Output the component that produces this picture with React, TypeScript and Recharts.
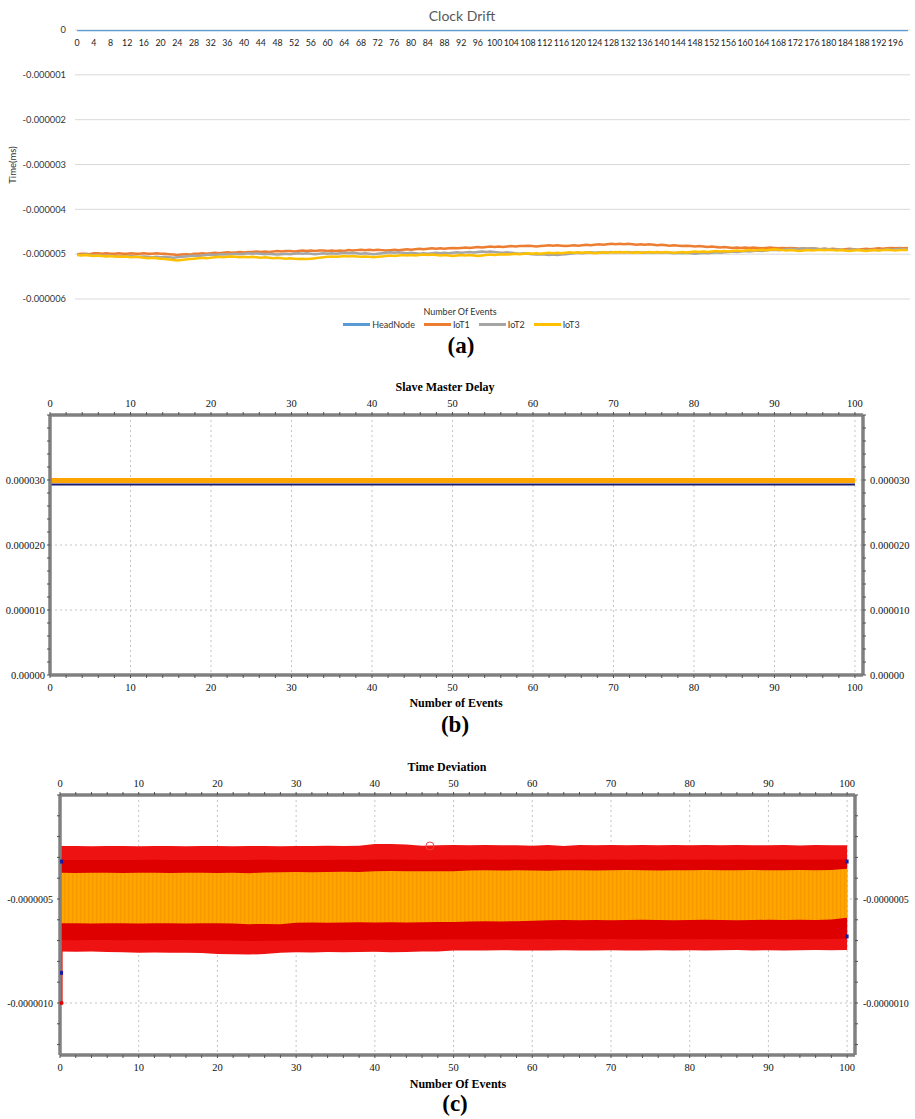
import React from "react";
import {
  LineChart,
  Line,
  XAxis,
  YAxis,
  CartesianGrid,
  ComposedChart,
  Area,
  Scatter,
} from "recharts";

// ---------- (a) Clock Drift, values in units of 1e-6 ms ----------
const driftTicks = [
  0, 4, 8, 12, 16, 20, 24, 28, 32, 36, 40, 44, 48, 52, 56, 60, 64, 68, 72, 76,
  80, 84, 88, 92, 96, 100, 104, 108, 112, 116, 120, 124, 128, 132, 136, 140,
  144, 148, 152, 156, 160, 164, 168, 172, 176, 180, 184, 188, 192, 196,
];
const driftYTicks = [-6, -5, -4, -3, -2, -1, 0];

const headNode = [
  0, 0, 0, 0, 0, 0, 0, 0, 0, 0, 0, 0, 0, 0, 0, 0, 0, 0, 0, 0,
  0, 0, 0, 0, 0, 0, 0, 0, 0, 0, 0, 0, 0, 0, 0, 0, 0, 0, 0, 0,
  0, 0, 0, 0, 0, 0, 0, 0, 0, 0, 0, 0, 0, 0, 0, 0, 0, 0, 0, 0,
  0, 0, 0, 0, 0, 0, 0, 0, 0, 0, 0, 0, 0, 0, 0, 0, 0, 0, 0, 0,
  0, 0, 0, 0, 0, 0, 0, 0, 0, 0, 0, 0, 0, 0, 0, 0, 0, 0, 0, 0,
  0, 0, 0, 0, 0, 0, 0, 0, 0, 0, 0, 0, 0, 0, 0, 0, 0, 0, 0, 0,
  0, 0, 0, 0, 0, 0, 0, 0, 0, 0, 0, 0, 0, 0, 0, 0, 0, 0, 0, 0,
  0, 0, 0, 0, 0, 0, 0, 0, 0, 0, 0, 0, 0, 0, 0, 0, 0, 0, 0, 0,
  0, 0, 0, 0, 0, 0, 0, 0, 0, 0, 0, 0, 0, 0, 0, 0, 0, 0, 0, 0,
  0, 0, 0, 0, 0, 0, 0, 0, 0, 0, 0, 0, 0, 0, 0, 0, 0, 0, 0, 0,
];

const iot1 = [
  -5.0, -4.99, -4.99, -5.0, -4.98, -4.98, -4.99, -4.98, -4.99, -4.99, -4.98, -4.99, -4.99, -4.98, -4.99, -4.99, -4.98, -4.99, -4.99, -4.98,
  -4.99, -4.99, -5.0, -5.01, -5.02, -5.01, -5.0, -5.01, -4.99, -4.99, -4.98, -4.99, -4.98, -4.97, -4.98, -4.97, -4.96, -4.97, -4.96, -4.95,
  -4.96, -4.95, -4.95, -4.94, -4.95, -4.94, -4.95, -4.94, -4.93, -4.94, -4.93, -4.93, -4.94, -4.93, -4.92, -4.93, -4.92, -4.93, -4.92, -4.92,
  -4.93, -4.92, -4.93, -4.92, -4.93, -4.91, -4.92, -4.91, -4.9, -4.91, -4.9, -4.91, -4.9, -4.91, -4.92, -4.91, -4.9, -4.91, -4.9, -4.89,
  -4.9, -4.89, -4.88, -4.89, -4.88, -4.87, -4.88, -4.87, -4.88, -4.87, -4.86, -4.87, -4.86, -4.85, -4.86, -4.85, -4.84, -4.85, -4.84, -4.83,
  -4.84, -4.83, -4.84, -4.83, -4.82, -4.83, -4.82, -4.82, -4.81, -4.82, -4.83, -4.82, -4.81, -4.8, -4.81, -4.8, -4.81, -4.82, -4.81, -4.8,
  -4.81, -4.8, -4.79, -4.8, -4.79, -4.78, -4.79, -4.78, -4.77, -4.78, -4.77, -4.78, -4.77, -4.78, -4.79, -4.78, -4.79, -4.78, -4.79, -4.8,
  -4.79, -4.8, -4.81, -4.8, -4.81, -4.82, -4.81, -4.82, -4.83, -4.82, -4.83, -4.84, -4.83, -4.84, -4.85, -4.84, -4.85, -4.86, -4.85, -4.86,
  -4.85, -4.86, -4.85, -4.86, -4.87, -4.86, -4.85, -4.86, -4.87, -4.86, -4.87, -4.86, -4.87, -4.88, -4.87, -4.88, -4.87, -4.88, -4.89, -4.88,
  -4.89, -4.88, -4.89, -4.9, -4.89, -4.88, -4.89, -4.9, -4.89, -4.88, -4.89, -4.88, -4.87, -4.88, -4.87, -4.86, -4.87, -4.86, -4.87, -4.86,
];

const iot2 = [
  -5.01, -5.02, -5.01, -5.02, -5.03, -5.02, -5.03, -5.04, -5.03, -5.04, -5.05, -5.04, -5.05, -5.04, -5.05, -5.06, -5.05, -5.06, -5.07, -5.06,
  -5.07, -5.06, -5.07, -5.08, -5.07, -5.06, -5.05, -5.04, -5.03, -5.04, -5.03, -5.02, -5.01, -5.02, -5.01, -5.0, -5.01, -5.0, -4.99, -5.0,
  -4.99, -4.98, -4.99, -4.98, -4.99, -5.0, -4.99, -5.0, -5.01, -5.0, -4.99, -5.0, -4.99, -4.98, -4.99, -4.98, -4.99, -5.0, -4.99, -4.98,
  -4.99, -4.98, -4.99, -4.98, -4.97, -4.98, -4.97, -4.98, -4.99, -4.98, -4.99, -5.0, -4.99, -4.98, -4.97, -4.96, -4.97, -4.96, -4.97, -4.98,
  -4.97, -4.98, -4.99, -4.98, -4.99, -4.98, -4.97, -4.98, -4.97, -4.98, -4.97, -4.96, -4.97, -4.96, -4.95, -4.96, -4.95, -4.94, -4.95, -4.94,
  -4.95, -4.96, -4.97, -4.96, -4.97, -4.98, -4.99, -4.98, -4.99, -5.0, -5.01, -5.0, -5.01, -5.02, -5.01, -5.02, -5.01, -5.0, -4.99, -4.98,
  -4.97, -4.98, -4.97, -4.96, -4.97, -4.96, -4.97, -4.96, -4.95, -4.96, -4.95, -4.96, -4.95, -4.96, -4.95, -4.96, -4.97, -4.96, -4.97, -4.96,
  -4.97, -4.96, -4.97, -4.98, -4.97, -4.98, -4.97, -4.98, -4.99, -4.98, -4.97, -4.98, -4.97, -4.96, -4.97, -4.96, -4.95, -4.94, -4.95, -4.94,
  -4.93, -4.94, -4.93, -4.92, -4.93, -4.92, -4.91, -4.9, -4.91, -4.9, -4.89, -4.88, -4.89, -4.88, -4.87, -4.88, -4.87, -4.88, -4.89, -4.88,
  -4.89, -4.9, -4.89, -4.9, -4.91, -4.9, -4.89, -4.9, -4.91, -4.92, -4.91, -4.9, -4.91, -4.9, -4.89, -4.9, -4.89, -4.88, -4.89, -4.89,
];

const iot3 = [
  -5.02, -5.03, -5.02, -5.03, -5.04, -5.03, -5.04, -5.05, -5.04, -5.05, -5.06, -5.05, -5.06, -5.07, -5.06, -5.07, -5.08, -5.09, -5.08, -5.09,
  -5.1, -5.11, -5.12, -5.13, -5.14, -5.13, -5.12, -5.11, -5.1, -5.09, -5.08, -5.09, -5.08, -5.07, -5.06, -5.07, -5.06, -5.05, -5.06, -5.07,
  -5.06, -5.07, -5.06, -5.07, -5.08, -5.07, -5.08, -5.09, -5.08, -5.09, -5.1, -5.09, -5.1, -5.11, -5.1, -5.11, -5.1, -5.09, -5.08, -5.07,
  -5.06, -5.05, -5.06, -5.05, -5.04, -5.05, -5.04, -5.05, -5.06, -5.05, -5.06, -5.07, -5.06, -5.05, -5.04, -5.03, -5.04, -5.03, -5.02, -5.03,
  -5.02, -5.03, -5.02, -5.01, -5.02, -5.01, -5.02, -5.03, -5.02, -5.03, -5.04, -5.03, -5.02, -5.03, -5.02, -5.03, -5.04, -5.03, -5.02, -5.01,
  -5.02, -5.01, -5.0, -5.01, -5.0, -4.99, -5.0, -4.99, -4.98, -4.99, -4.98, -4.99, -4.98, -4.97, -4.98, -4.97, -4.98, -4.97, -4.96, -4.97,
  -4.96, -4.97, -4.96, -4.97, -4.98, -4.97, -4.96, -4.97, -4.96, -4.95, -4.96, -4.95, -4.96, -4.97, -4.96, -4.97, -4.96, -4.95, -4.96, -4.95,
  -4.96, -4.95, -4.96, -4.97, -4.96, -4.95, -4.96, -4.95, -4.94, -4.95, -4.94, -4.95, -4.94, -4.93, -4.94, -4.93, -4.94, -4.93, -4.92, -4.93,
  -4.92, -4.91, -4.92, -4.91, -4.9, -4.91, -4.9, -4.89, -4.9, -4.91, -4.92, -4.91, -4.92, -4.93, -4.92, -4.91, -4.92, -4.91, -4.9, -4.91,
  -4.9, -4.91, -4.92, -4.91, -4.92, -4.93, -4.92, -4.91, -4.92, -4.93, -4.92, -4.91, -4.92, -4.91, -4.9, -4.91, -4.92, -4.91, -4.9, -4.91,
];

const driftSeries = [
  { key: "head", name: "HeadNode", color: "#5B9BD5" },
  { key: "iot1", name: "IoT1", color: "#ED7D31" },
  { key: "iot2", name: "IoT2", color: "#A5A5A5" },
  { key: "iot3", name: "IoT3", color: "#FFC000" },
];

const driftData = headNode.map((h, i) => ({
  event: i,
  head: h,
  iot1: iot1[i],
  iot2: iot2[i],
  iot3: iot3[i],
}));

// ---------- (b) Slave Master Delay, values in units of 1e-6 ----------
const delayEvents = [0, 5, 10, 15, 20, 25, 30, 35, 40, 45, 50, 55, 60, 65, 70, 75, 80, 85, 90, 95, 100];
const delayLow = [29.3, 29.3, 29.31, 29.3, 29.3, 29.3, 29.31, 29.3, 29.3, 29.3, 29.3, 29.31, 29.3, 29.3, 29.3, 29.3, 29.31, 29.3, 29.3, 29.3, 29.3];
const delayHigh = [29.93, 29.92, 29.92, 29.93, 29.92, 29.92, 29.92, 29.93, 29.92, 29.92, 29.92, 29.92, 29.93, 29.92, 29.92, 29.92, 29.92, 29.93, 29.92, 29.92, 29.92];
const delayXTicks = [0, 2, 4, 6, 8, 10, 12, 14, 16, 18, 20, 22, 24, 26, 28, 30, 32, 34, 36, 38, 40, 42, 44, 46, 48, 50, 52, 54, 56, 58, 60, 62, 64, 66, 68, 70, 72, 74, 76, 78, 80, 82, 84, 86, 88, 90, 92, 94, 96, 98, 100];
const delayYTicks = [0, 2, 4, 6, 8, 10, 12, 14, 16, 18, 20, 22, 24, 26, 28, 30, 32, 34, 36, 38, 40];

const delayData = delayEvents.map((e, i) => ({ event: e, low: delayLow[i], high: delayHigh[i] }));

// ---------- (c) Time Deviation, values in units of 1e-7 ----------
const devEvents = [
  0, 2, 4, 6, 8, 10, 12, 14, 16, 18, 20, 22, 24, 26, 28, 30, 32, 34, 36, 38, 40, 42, 44, 46, 48, 50,
  52, 54, 56, 58, 60, 62, 64, 66, 68, 70, 72, 74, 76, 78, 80, 82, 84, 86, 88, 90, 92, 94, 96, 98, 100,
];
const outerTop = [
  -2.45, -2.45, -2.46, -2.45, -2.45, -2.46, -2.45, -2.45, -2.46, -2.45,
  -2.45, -2.46, -2.45, -2.45, -2.46, -2.45, -2.45, -2.44, -2.45, -2.44,
  -2.36, -2.36, -2.38, -2.44, -2.42, -2.4, -2.41, -2.4, -2.42, -2.41,
  -2.44, -2.4, -2.45, -2.4, -2.41, -2.4, -2.41, -2.4, -2.41, -2.4,
  -2.41, -2.4, -2.41, -2.4, -2.41, -2.42, -2.4, -2.43, -2.4, -2.41,
  -2.41,
];
const darkTop = [
  -3.12, -3.13, -3.12, -3.12, -3.13, -3.12, -3.11, -3.12, -3.13, -3.12,
  -3.12, -3.13, -3.12, -3.11, -3.12, -3.12, -3.13, -3.12, -3.11, -3.12,
  -3.1, -3.1, -3.11, -3.12, -3.11, -3.1, -3.11, -3.1, -3.11, -3.1,
  -3.11, -3.1, -3.11, -3.1, -3.11, -3.1, -3.11, -3.1, -3.11, -3.1,
  -3.11, -3.1, -3.11, -3.1, -3.11, -3.1, -3.11, -3.1, -3.11, -3.1,
  -3.1,
];
const orangeTop = [
  -3.74, -3.75, -3.74, -3.74, -3.75, -3.74, -3.74, -3.75, -3.74, -3.74,
  -3.75, -3.74, -3.76, -3.72, -3.71, -3.7, -3.71, -3.7, -3.69, -3.7,
  -3.66, -3.65, -3.66, -3.67, -3.66, -3.66, -3.63, -3.62, -3.63, -3.62,
  -3.63, -3.64, -3.62, -3.62, -3.63, -3.62, -3.61, -3.62, -3.63, -3.62,
  -3.62, -3.61, -3.62, -3.62, -3.61, -3.62, -3.62, -3.61, -3.62, -3.6,
  -3.55,
];
const orangeBottom = [
  -6.17, -6.17, -6.18, -6.17, -6.17, -6.18, -6.17, -6.17, -6.18, -6.17,
  -6.17, -6.18, -6.21, -6.2, -6.21, -6.14, -6.13, -6.14, -6.13, -6.12,
  -6.13, -6.12, -6.13, -6.12, -6.11, -6.1, -6.08, -6.07, -6.08, -6.07,
  -6.05, -6.02, -6.01, -6.02, -6.01, -6.02, -6.01, -6.0, -6.01, -6.02,
  -6.01, -6.0, -6.01, -6.02, -6.01, -6.0, -6.01, -6.0, -6.01, -5.98,
  -5.9,
];
const darkBottom = [
  -6.97, -6.98, -6.97, -6.97, -6.98, -6.97, -6.98, -6.97, -6.97, -6.98,
  -6.98, -7.0, -7.02, -7.01, -7.0, -6.98, -6.97, -6.98, -6.97, -6.97,
  -6.96, -6.97, -6.96, -6.96, -6.95, -6.94, -6.93, -6.94, -6.93, -6.92,
  -6.93, -6.92, -6.93, -6.92, -6.93, -6.92, -6.93, -6.92, -6.93, -6.92,
  -6.93, -6.92, -6.93, -6.92, -6.93, -6.92, -6.93, -6.92, -6.93, -6.92,
  -6.9,
];
const outerBottom = [
  -7.53, -7.54, -7.53, -7.55, -7.56, -7.58, -7.57, -7.59, -7.58, -7.6,
  -7.64, -7.66, -7.67, -7.65, -7.58, -7.56, -7.57, -7.55, -7.56, -7.55,
  -7.54, -7.56, -7.55, -7.53, -7.52, -7.48, -7.47, -7.48, -7.46, -7.47,
  -7.48, -7.47, -7.46, -7.48, -7.47, -7.46, -7.47, -7.48, -7.46, -7.47,
  -7.46, -7.47, -7.46, -7.45, -7.47, -7.46, -7.47, -7.46, -7.45, -7.46,
  -7.45,
];
// first sample drop and stray markers
const dropEvents = [0.2, 0.2];
const dropValues = [-10, -7.5];
const blueMarkEvents = [0.2, 0.2, 100, 100];
const blueMarkValues = [-3.2, -8.55, -3.2, -6.8];
const ringEvents = [47];
const ringValues = [-2.45];
const devXTicks = delayXTicks;
const devYTicks = [0, -1, -2, -3, -4, -5, -6, -7, -8, -9, -10, -11, -12];

const devData = devEvents.map((e, i) => ({
  event: e,
  outer: [outerBottom[i], outerTop[i]],
  dark: [darkBottom[i], darkTop[i]],
  orange: [orangeBottom[i], orangeTop[i]],
}));
const dropData = dropEvents.map((e, i) => ({ event: e, value: dropValues[i] }));
const blueMarks = blueMarkEvents.map((e, i) => ({ event: e, value: blueMarkValues[i] }));
const ringMarks = ringEvents.map((e, i) => ({ event: e, value: ringValues[i] }));

const SERIF = "'Liberation Serif', 'Times New Roman', serif";
const SANS = "Lato, 'Open Sans', sans-serif";
const frame = { stroke: "#808080", strokeWidth: 3.5 };
const tickMark = { stroke: "#505050" };
const serifTick = { fontSize: 10.5, fontFamily: SERIF, fill: "#111" };

function Txt({ x, y, children, style }: any) {
  return (
    <div
      style={{
        position: "absolute",
        left: x,
        top: y,
        transform: "translate(-50%, -50%)",
        whiteSpace: "nowrap",
        ...style,
      }}
    >
      {children}
    </div>
  );
}

const tenLabel = (v: number) => (v % 10 === 0 ? String(v) : "");
const delayYLabel = (v: number) =>
  v === 0 ? "0.00000" : v % 10 === 0 && v < 40 ? (v * 1e-6).toFixed(6) : "";
const devYLabel = (v: number) => (v === -5 || v === -10 ? (v * 1e-7).toFixed(7) : "");

export default function App() {
  return (
    <div
      style={{
        position: "absolute",
        left: 0,
        top: 0,
        width: 915,
        height: 1119,
        background: "#fff",
        overflow: "hidden",
      }}
    >
      {/* (a) */}
      <Txt x={462} y={15} style={{ fontFamily: SANS, fontSize: 14, color: "#595959" }}>
        Clock Drift
      </Txt>
      <div style={{ position: "absolute", left: 0, top: 0 }}>
        <LineChart width={915} height={310} data={driftData} margin={{ top: 0, right: 5, bottom: 11, left: 0 }}>
          <CartesianGrid vertical={false} stroke="#D9D9D9" />
          <XAxis
            dataKey="event"
            type="number"
            orientation="top"
            domain={[-0.5, 199.5]}
            allowDataOverflow
            ticks={driftTicks}
            interval={0}
            height={30}
            axisLine={false}
            tickLine={false}
            tick={(p: any) => (
              <text x={p.x} y={46} textAnchor="middle" fontSize={8.8} fontFamily={SANS} fill="#222">
                {p.payload.value}
              </text>
            )}
          />
          <YAxis
            type="number"
            domain={[-6, 0]}
            allowDataOverflow
            ticks={driftYTicks}
            width={75}
            axisLine={false}
            tickLine={false}
            tickSize={0}
            tickMargin={9}
            tick={{ fontSize: 9.3, fontFamily: SANS, fill: "#333" }}
            tickFormatter={(v: number) => (v === 0 ? "0" : (v * 1e-6).toFixed(6))}
          />
          {driftSeries.map((s) => (
            <Line
              key={s.key}
              dataKey={s.key}
              name={s.name}
              stroke={s.color}
              strokeWidth={2.5}
              dot={false}
              type="linear"
              isAnimationActive={false}
            />
          ))}
        </LineChart>
      </div>
      <div
        style={{
          position: "absolute",
          left: 12,
          top: 165,
          transform: "translate(-50%, -50%) rotate(-90deg)",
          fontFamily: SANS,
          fontSize: 9.5,
          color: "#333",
          whiteSpace: "nowrap",
        }}
      >
        Time(ms)
      </div>
      <Txt x={460} y={311} style={{ fontFamily: SANS, fontSize: 9, color: "#333" }}>
        Number Of Events
      </Txt>
      <div
        style={{
          position: "absolute",
          left: 0,
          width: 915,
          top: 319,
          display: "flex",
          justifyContent: "center",
          gap: 9,
          fontFamily: SANS,
          fontSize: 9,
          color: "#333",
          paddingLeft: 4,
        }}
      >
        {driftSeries.map((s) => (
          <div key={s.key} style={{ display: "flex", alignItems: "center", gap: 2 }}>
            <div style={{ width: 27, height: 2.5, background: s.color }} />
            <span>{s.name}</span>
          </div>
        ))}
      </div>
      <Txt x={461} y={346} style={{ fontFamily: SERIF, fontWeight: "bold", fontSize: 23 }}>
        (a)
      </Txt>

      {/* (b) */}
      <Txt x={445} y={387} style={{ fontFamily: SERIF, fontWeight: "bold", fontSize: 12 }}>
        Slave Master Delay
      </Txt>
      <div style={{ position: "absolute", left: 0, top: 370 }}>
        <ComposedChart width={915} height={340} data={delayData} margin={{ top: 0, right: 0, bottom: 0, left: 0 }}>
          <CartesianGrid
            stroke="#C4C4C4"
            strokeDasharray="2 3"
            verticalValues={[10, 20, 30, 40, 50, 60, 70, 80, 90, 100]}
            horizontalValues={[10, 20, 30]}
          />
          <XAxis
            dataKey="event"
            type="number"
            domain={[0, 101]}
            allowDataOverflow
            ticks={delayXTicks}
            interval={0}
            height={35}
            axisLine={frame}
            tickLine={tickMark}
            tickSize={3}
            tickMargin={6}
            tick={serifTick}
            tickFormatter={tenLabel}
          />
          <XAxis
            xAxisId="top"
            dataKey="event"
            orientation="top"
            type="number"
            domain={[0, 101]}
            allowDataOverflow
            ticks={delayXTicks}
            interval={0}
            height={45}
            axisLine={frame}
            tickLine={tickMark}
            tickSize={3}
            tickMargin={5}
            tick={serifTick}
            tickFormatter={tenLabel}
          />
          <YAxis
            type="number"
            domain={[0, 40]}
            allowDataOverflow
            ticks={delayYTicks}
            interval={0}
            width={50}
            axisLine={frame}
            tickLine={tickMark}
            tickSize={3}
            tickMargin={2}
            tick={serifTick}
            tickFormatter={delayYLabel}
          />
          <YAxis
            yAxisId="right"
            dataKey="high"
            orientation="right"
            type="number"
            domain={[0, 40]}
            allowDataOverflow
            ticks={delayYTicks}
            interval={0}
            width={52}
            axisLine={frame}
            tickLine={tickMark}
            tickSize={3}
            tickMargin={4}
            tick={serifTick}
            tickFormatter={delayYLabel}
          />
          <Line dataKey="low" stroke="#1C1C6B" strokeWidth={2} dot={false} type="linear" isAnimationActive={false} />
          <Line dataKey="high" stroke="#FFA500" strokeWidth={5} dot={false} type="linear" isAnimationActive={false} />
        </ComposedChart>
      </div>
      <Txt x={456} y={703} style={{ fontFamily: SERIF, fontWeight: "bold", fontSize: 12 }}>
        Number of Events
      </Txt>
      <Txt x={455} y={725} style={{ fontFamily: SERIF, fontWeight: "bold", fontSize: 23 }}>
        (b)
      </Txt>

      {/* (c) */}
      <Txt x={447} y={767} style={{ fontFamily: SERIF, fontWeight: "bold", fontSize: 12 }}>
        Time Deviation
      </Txt>
      <div style={{ position: "absolute", left: 0, top: 745 }}>
        <ComposedChart width={915} height={335} data={devData} margin={{ top: 0, right: 0, bottom: 0, left: 0 }}>
          <defs>
            <pattern id="orangeStripes" width={4} height={6} patternUnits="userSpaceOnUse">
              <rect width={4} height={6} fill="#FFA500" />
              <rect width={1.3} height={6} fill="#F79A00" />
            </pattern>
          </defs>
          <CartesianGrid
            stroke="#C4C4C4"
            strokeDasharray="2 3"
            verticalValues={[10, 20, 30, 40, 50, 60, 70, 80, 90, 100]}
            horizontalValues={[-5, -10]}
          />
          <XAxis
            dataKey="event"
            type="number"
            domain={[0, 101]}
            allowDataOverflow
            ticks={devXTicks}
            interval={0}
            height={25}
            axisLine={frame}
            tickLine={tickMark}
            tickSize={3}
            tickMargin={6}
            tick={serifTick}
            tickFormatter={tenLabel}
          />
          <XAxis
            xAxisId="top"
            dataKey="event"
            orientation="top"
            type="number"
            domain={[0, 101]}
            allowDataOverflow
            ticks={devXTicks}
            interval={0}
            height={50}
            axisLine={frame}
            tickLine={tickMark}
            tickSize={3}
            tickMargin={5}
            tick={serifTick}
            tickFormatter={tenLabel}
          />
          <YAxis
            type="number"
            domain={[-12.5, 0]}
            allowDataOverflow
            ticks={devYTicks}
            interval={0}
            width={60}
            axisLine={frame}
            tickLine={tickMark}
            tickSize={3}
            tickMargin={4}
            tick={{ ...serifTick, fontSize: 10 }}
            tickFormatter={devYLabel}
          />
          <YAxis
            yAxisId="right"
            orientation="right"
            type="number"
            domain={[-12.5, 0]}
            allowDataOverflow
            ticks={devYTicks}
            interval={0}
            width={60}
            axisLine={frame}
            tickLine={tickMark}
            tickSize={3}
            tickMargin={5}
            tick={{ ...serifTick, fontSize: 10 }}
            tickFormatter={devYLabel}
          />
          <Area dataKey="outer" type="linear" stroke="none" fill="#EF1212" fillOpacity={1} isAnimationActive={false} />
          <Area dataKey="dark" type="linear" stroke="none" fill="#DE0000" fillOpacity={1} isAnimationActive={false} />
          <Area dataKey="orange" type="linear" stroke="none" fill="url(#orangeStripes)" fillOpacity={1} isAnimationActive={false} />
          <Line
            data={dropData}
            dataKey="value"
            stroke="#E00000"
            strokeWidth={2}
            type="linear"
            isAnimationActive={false}
            dot={(p: any) =>
              p.index === 0 ? (
                <circle key={`d${p.index}`} cx={p.cx} cy={p.cy} r={2} fill="#E00000" />
              ) : (
                <circle key={`d${p.index}`} cx={p.cx} cy={p.cy} r={0} />
              )
            }
          />
          <Scatter
            data={blueMarks}
            dataKey="value"
            isAnimationActive={false}
            shape={(p: any) => <rect x={p.cx - 1.5} y={p.cy - 2} width={3} height={4} fill="#1A1AA0" />}
          />
          <Scatter
            data={ringMarks}
            dataKey="value"
            isAnimationActive={false}
            shape={(p: any) => <circle cx={p.cx} cy={p.cy} r={4} fill="none" stroke="#F04040" strokeWidth={1} />}
          />
        </ComposedChart>
      </div>
      <Txt x={458} y={1084} style={{ fontFamily: SERIF, fontWeight: "bold", fontSize: 12 }}>
        Number Of Events
      </Txt>
      <Txt x={455} y={1104} style={{ fontFamily: SERIF, fontWeight: "bold", fontSize: 23 }}>
        (c)
      </Txt>
    </div>
  );
}
